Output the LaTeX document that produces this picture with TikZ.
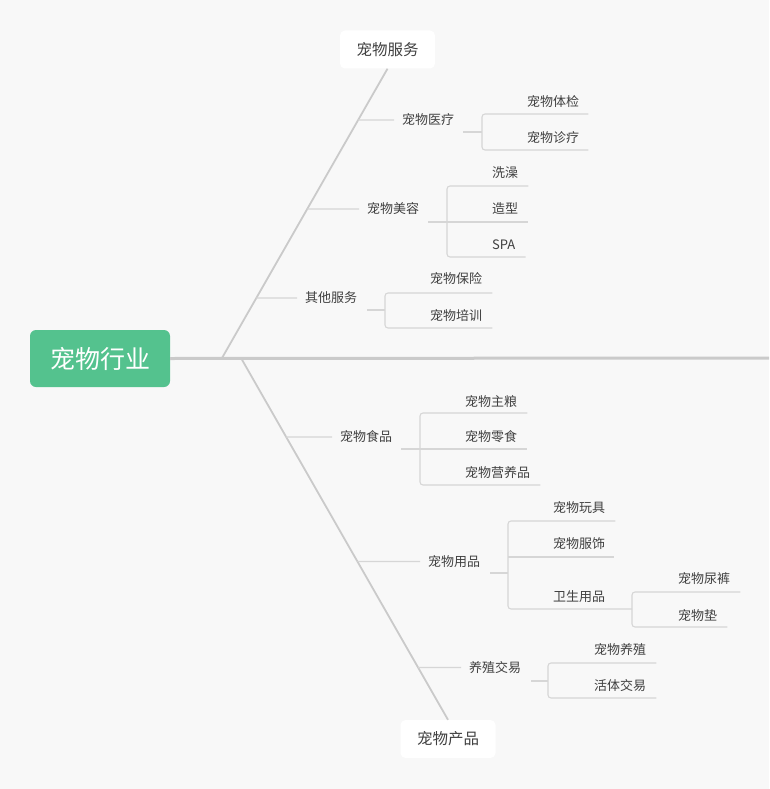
\documentclass[tikz,border=0pt]{standalone}
\usepackage{fontspec}
\setmainfont{Noto Sans CJK SC}
\usetikzlibrary{calc}
\usepackage{xcolor}
\definecolor{bg}{RGB}{248,248,248}
\definecolor{rootgreen}{RGB}{84,194,142}
\definecolor{bonegray}{RGB}{202,202,202}
\definecolor{twiggray}{RGB}{214,214,214}
\definecolor{txt}{RGB}{64,64,64}

\begin{document}
\begin{tikzpicture}[x=1pt,y=-1pt,
  root/.style={fill=rootgreen,text=white,rounded corners=6pt,
   minimum width=140pt,minimum height=57pt,font=\fontsize{25}{28}\selectfont},
  cat/.style={fill=white,text=txt,rounded corners=5pt,
   minimum width=95pt,minimum height=38pt,font=\fontsize{15.5}{18}\selectfont},
  item/.style={anchor=west,inner sep=0pt,text=txt,text height=11.4pt,
   text depth=1.6pt,font=\fontsize{13}{15}\selectfont},
  spine/.style={draw=bonegray,line width=3pt},
  bone/.style={draw=bonegray,line width=1.8pt},
  twig/.style={draw=twiggray,line width=1.1pt,rounded corners=3pt}]
  \useasboundingbox[fill=bg] (0,0) rectangle (769,789);

  \node[root] (hy) at (100,358.5) {宠物行业};
  \node[cat] (fw) at (387.5,49.5) {宠物服务};
  \node[cat] (cp) at (448,739) {宠物产品};
  \coordinate (spE) at (769,358);
  \coordinate (upO) at (222,358);
  \coordinate (dnO) at (241,358);
  \draw[spine] (hy.east) -- (spE);
  \draw[bone] (upO) -- (fw.south);
  \draw[bone] (dnO) -- (cp.north);

  \node[item] (yl) at (402,120) {宠物医疗};
  \node[item] (mr) at (367,209) {宠物美容};
  \node[item] (qt) at (305,298) {其他服务};
  \node[item] (sp) at (340,437) {宠物食品};
  \node[item] (yp) at (428,561.5) {宠物用品};
  \node[item] (jy) at (469,667.5) {养殖交易};
  \foreach \b in {yl,mr,qt}
   \draw[twig] (intersection of upO--fw.south and \b.west--\b.east)
    -- ([xshift=-8pt]\b.west);
  \foreach \b in {sp,yp,jy}
   \draw[twig] (intersection of dnO--cp.north and \b.west--\b.east)
    -- ([xshift=-8pt]\b.west);

  \node[item] (tj) at (527,102) {宠物体检};
  \node[item] (zl) at (527,137.5) {宠物诊疗};
  \coordinate (ylT) at (482,114);
  \coordinate (ylM) at (482,132);
  \coordinate (ylB) at (482,150);
  \draw[twig] ([xshift=9pt]tj.east |- ylT) -- (ylT) -- (ylB)
   -- ([xshift=9pt]zl.east |- ylB);
  \draw[twig] ([xshift=9pt]yl.east |- ylM) -- (ylM);

  \node[item] (xz) at (492,173) {洗澡};
  \node[item] (zx) at (492,209) {造型};
  \node[item] (spa) at (492,245) {SPA};
  \coordinate (mrT) at (447,186);
  \coordinate (mrM) at (447,222);
  \coordinate (mrB) at (447,257);
  \draw[twig] ([xshift=10pt]xz.east |- mrT) -- (mrT) -- (mrB)
   -- ([xshift=10pt]spa.east |- mrB);
  \draw[twig] ([xshift=9pt]mr.east |- mrM) -- ([xshift=10pt]zx.east |- mrM);

  \node[item] (bx) at (430,279) {宠物保险};
  \node[item] (px) at (430,316) {宠物培训};
  \coordinate (qtT) at (385,293);
  \coordinate (qtM) at (385,310);
  \coordinate (qtB) at (385,328);
  \draw[twig] ([xshift=10pt]bx.east |- qtT) -- (qtT) -- (qtB)
   -- ([xshift=10pt]px.east |- qtB);
  \draw[twig] ([xshift=10pt]qt.east |- qtM) -- (qtM);

  \node[item] (zlg) at (465,401.5) {宠物主粮};
  \node[item] (ls) at (465,437) {宠物零食};
  \node[item] (yyp) at (465,473) {宠物营养品};
  \coordinate (spT) at (420,413);
  \coordinate (spM) at (420,449);
  \coordinate (spB) at (420,485);
  \draw[twig] ([xshift=10pt]zlg.east |- spT) -- (spT) -- (spB)
   -- ([xshift=10pt]yyp.east |- spB);
  \draw[twig] ([xshift=9pt]sp.east |- spM) -- ([xshift=10pt]ls.east |- spM);

  \node[item] (wj) at (553,508) {宠物玩具};
  \node[item] (fs) at (553,543.5) {宠物服饰};
  \node[item] (ws) at (553,597) {卫生用品};
  \coordinate (ypT) at (508,521);
  \coordinate (ypS) at (508,557);
  \coordinate (ypM) at (508,573);
  \coordinate (ypB) at (508,609);
  \coordinate (wsT) at (632,592);
  \coordinate (wsM) at (632,609);
  \coordinate (wsB) at (632,627);
  \draw[twig] ([xshift=10pt]wj.east |- ypT) -- (ypT) -- (ypB) -- (wsM);
  \draw[twig] (ypS) -- ([xshift=9pt]fs.east |- ypS);
  \draw[twig] ([xshift=10pt]yp.east |- ypM) -- (ypM);

  \node[item] (nk) at (678,579) {宠物尿裤};
  \node[item] (dz) at (678,616) {宠物垫};
  \draw[twig] ([xshift=10pt]nk.east |- wsT) -- (wsT) -- (wsB)
   -- ([xshift=10pt]dz.east |- wsB);

  \node[item] (yz) at (594,650) {宠物养殖};
  \node[item] (ht) at (594,686) {活体交易};
  \coordinate (jyT) at (548,663);
  \coordinate (jyM) at (548,681);
  \coordinate (jyB) at (548,698);
  \draw[twig] ([xshift=10pt]yz.east |- jyT) -- (jyT) -- (jyB)
   -- ([xshift=10pt]ht.east |- jyB);
  \draw[twig] ([xshift=10pt]jy.east |- jyM) -- (jyM);
\end{tikzpicture}
\end{document}
